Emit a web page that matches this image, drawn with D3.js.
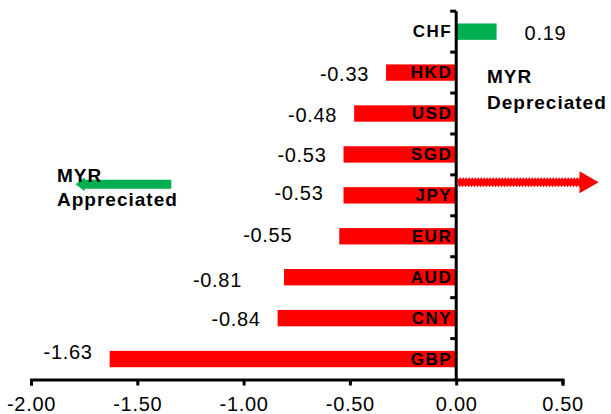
<!DOCTYPE html>
<html>
<head>
<meta charset="utf-8">
<script src="https://cdn.jsdelivr.net/npm/d3@7/dist/d3.min.js"></script>
<style>
  html, body { margin: 0; padding: 0; background: #fff; }
  svg { display: block; }
  text { font-family: "Liberation Sans", Arial, sans-serif; fill: #000; }
</style>
</head>
<body>
<svg id="chart" width="611" height="414"></svg>
<script>
// Change of each currency against the ringgit (%)
const currencies = ["CHF", "HKD", "USD", "SGD", "JPY", "EUR", "AUD", "CNY", "GBP"];
const changes = [0.19, -0.33, -0.48, -0.53, -0.53, -0.55, -0.81, -0.84, -1.63];
const xTicks = [-2.0, -1.5, -1.0, -0.5, 0.0, 0.5];
const tickLabels = ["-2.00", "-1.50", "-1.00", "-0.50", "0.00", "0.50"];

const RED = "#ff0000";
const GREEN = "#00b050";

// Hand placement of a few value labels that sit away from their bar ends
const labelNudge = { EUR: { dx: -30, dy: -2 }, AUD: { dx: -25, dy: 2 }, JPY: { dx: -3, dy: -3 }, GBP: { dx: 0, dy: -8 } };

const svg = d3.select("#chart");

const x = d3.scaleLinear().domain([-2, 0.5]).range([31, 562.5]);
const y = d3.scaleBand().domain(currencies).range([11.2, 379.5])
  .paddingInner(0.6).paddingOuter(0.3);

const x0 = x(0);
const yMid = c => y(c) + y.bandwidth() / 2;

// Bars
svg.append("g").selectAll("rect")
  .data(currencies)
  .join("rect")
  .attr("x", (d, i) => Math.min(x(changes[i]), x0))
  .attr("width", (d, i) => Math.abs(x(changes[i]) - x0))
  .attr("y", d => y(d))
  .attr("height", y.bandwidth())
  .attr("fill", (d, i) => changes[i] >= 0 ? GREEN : RED);

// Category names just left of the zero line
svg.append("g").selectAll("text")
  .data(currencies)
  .join("text")
  .attr("x", x0 - 4)
  .attr("y", d => yMid(d) + 5.5)
  .attr("text-anchor", "end")
  .style("font-size", "17px")
  .style("font-weight", "bold")
  .style("letter-spacing", "1.5px")
  .text(d => d);

// Value labels
svg.append("g").selectAll("text")
  .data(currencies)
  .join("text")
  .attr("x", (d, i) => {
    const n = labelNudge[d] ? labelNudge[d].dx : 0;
    return changes[i] >= 0 ? x(changes[i]) + 28 + n : x(changes[i]) - 17 + n;
  })
  .attr("y", (d, i) => {
    const n = labelNudge[d] ? labelNudge[d].dy : 0;
    return yMid(d) + 8 + n;
  })
  .attr("text-anchor", (d, i) => changes[i] >= 0 ? "start" : "end")
  .style("font-size", "20px")
  .style("letter-spacing", "0.7px")
  .text((d, i) => changes[i].toFixed(2));

// X axis
const xAxis = d3.axisBottom(x)
  .tickValues(xTicks)
  .tickFormat((d, i) => tickLabels[i])
  .tickSizeOuter(0)
  .tickSize(6);
const gx = svg.append("g").attr("transform", `translate(0,${y.range()[1]})`).call(xAxis);
gx.select(".domain").attr("stroke", "#000").attr("stroke-width", 3);
gx.selectAll(".tick line").attr("stroke", "#000").attr("stroke-width", 3);
gx.selectAll(".tick text")
  .attr("y", 31.5).attr("dy", 0)
  .style("font-family", "'Liberation Sans', Arial, sans-serif")
  .style("font-size", "20px")
  .style("letter-spacing", "0.7px")
  .attr("fill", "#000");

// Zero line with ticks between the categories
const [yTop, yBot] = y.range();
const gy = svg.append("g");
gy.append("line")
  .attr("x1", x0).attr("x2", x0)
  .attr("y1", yTop).attr("y2", yBot)
  .attr("stroke", "#000").attr("stroke-width", 3);
const bounds = currencies.map(c => yMid(c) - y.step() / 2);
gy.selectAll("line.tk")
  .data(bounds)
  .join("line")
  .attr("class", "tk")
  .attr("x1", x0 - 6).attr("x2", x0)
  .attr("y1", d => d).attr("y2", d => d)
  .attr("stroke", "#000").attr("stroke-width", 3);

// Annotation: green arrow pointing left (ringgit appreciated)
const ga = { y: yMid("JPY") - 11, tail: x(-1.34), tip: x(-1.79) };
svg.append("path")
  .attr("d", `M${ga.tail},${ga.y - 4.5} L${ga.tip + 9},${ga.y - 4.5} L${ga.tip + 9},${ga.y - 7}
              L${ga.tip},${ga.y} L${ga.tip + 9},${ga.y + 7} L${ga.tip + 9},${ga.y + 4.5}
              L${ga.tail},${ga.y + 4.5} Z`)
  .attr("fill", GREEN);

// Annotation: serrated red arrow pointing right (ringgit depreciated)
const ra = { y: yMid("JPY") - 13, tail: x0 + 1, neck: x(0.58), tip: x(0.67) };
{
  const pts = [];
  const step = 3;
  for (let px = ra.tail; px <= ra.neck; px += step) {
    pts.push([px, ra.y - 5]);
    pts.push([px + step / 2, ra.y - 3]);
  }
  pts.push([ra.neck, ra.y - 5]);
  pts.push([ra.neck, ra.y - 11]);
  pts.push([ra.tip, ra.y]);
  pts.push([ra.neck, ra.y + 11]);
  pts.push([ra.neck, ra.y + 5]);
  for (let px = ra.neck; px >= ra.tail; px -= step) {
    pts.push([px, ra.y + 5]);
    pts.push([px - step / 2, ra.y + 3]);
  }
  svg.append("path")
    .attr("d", d3.line()(pts) + "Z")
    .attr("fill", RED);
}

// Annotation captions
const cap = svg.append("g")
  .style("font-size", "19px")
  .style("font-weight", "bold")
  .style("letter-spacing", "1px");
cap.append("text").attr("x", 57).attr("y", ga.y - 2).text("MYR");
cap.append("text").attr("x", 57).attr("y", ga.y + 22).text("Appreciated");
cap.append("text").attr("x", 487).attr("y", 83).text("MYR");
cap.append("text").attr("x", 487).attr("y", 109).text("Depreciated");
</script>
</body>
</html>
